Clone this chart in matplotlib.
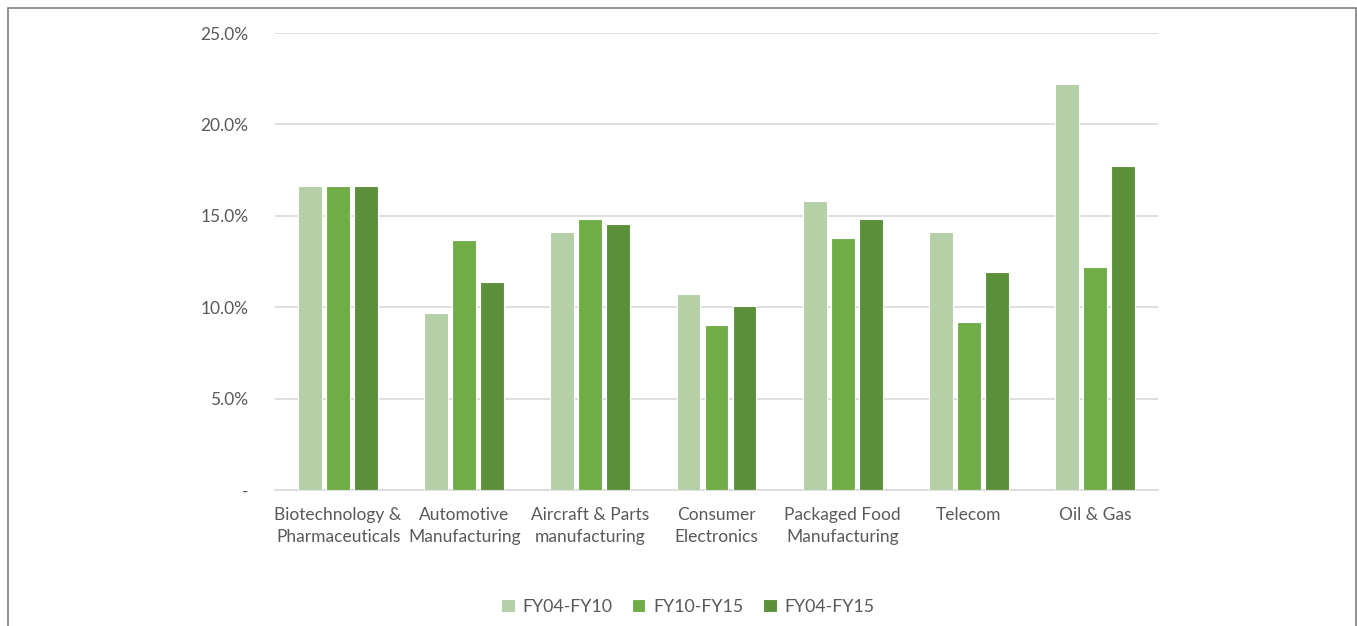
import numpy as np
import matplotlib.pyplot as plt
from matplotlib.patches import Rectangle
from matplotlib.ticker import FuncFormatter

plt.rcParams['font.family'] = ['Lato', 'DejaVu Sans']

categories = ['Biotechnology &\nPharmaceuticals', 'Automotive\nManufacturing',
              'Aircraft & Parts\nmanufacturing', 'Consumer\nElectronics',
              'Packaged Food\nManufacturing', 'Telecom', 'Oil & Gas']
series_names = ['FY04-FY10', 'FY10-FY15', 'FY04-FY15']
fy04_fy10 = [16.65, 9.7, 14.1, 10.7, 15.8, 14.1, 22.2]
fy10_fy15 = [16.65, 13.7, 14.85, 9.0, 13.8, 9.2, 12.2]
fy04_fy15 = [16.65, 11.4, 14.55, 10.05, 14.85, 11.9, 17.7]
colors = ['#B5CFA7', '#70AD47', '#5B8F3A']

fig = plt.figure(figsize=(13.57, 6.26), dpi=100)
ax = fig.add_axes([275 / 1357, 1 - 490 / 626, 883 / 1357, 457 / 626])

x = np.arange(len(categories))
step = 0.222
for i, (vals, name, c) in enumerate(zip([fy04_fy10, fy10_fy15, fy04_fy15], series_names, colors)):
    ax.bar(x + (i - 1) * step, vals, width=0.19, color=c, edgecolor='white',
           linewidth=0.8, label=name, zorder=3)

ax.set_xlim(-0.5, len(categories) - 0.5)
ax.set_ylim(0, 25)
ax.set_yticks(np.arange(0, 26, 5))
ax.yaxis.set_major_formatter(FuncFormatter(lambda v, p: '-' if v == 0 else f'{v:.1f}%'))
ax.grid(axis='y', color='#D9D9D9', linewidth=1.2, zorder=0)
for s in ['top', 'right', 'left']:
    ax.spines[s].set_visible(False)
ax.spines['bottom'].set_color('#D9D9D9')
ax.spines['bottom'].set_linewidth(1.2)
ax.tick_params(axis='both', length=0, colors='#595959', labelsize=12.5)
ax.tick_params(axis='y', pad=19)
ax.tick_params(axis='x', pad=12)
ax.set_xticks(x)
ax.set_xticklabels(categories, linespacing=1.45)

fig.legend(loc='center', bbox_to_anchor=(688 / 1357, 1 - 607 / 626), ncol=3,
           frameon=False, fontsize=12.8, labelcolor='#595959', handlelength=0.75,
           handleheight=0.75, handletextpad=0.45, columnspacing=1.1)

fig.patches.append(Rectangle((8 / 1357, -0.1), 1348 / 1357, 1.1 - 8 / 626,
                             transform=fig.transFigure, fill=False,
                             edgecolor='#7F7F7F', linewidth=1.2))

fig.savefig('out.png', dpi=100)
